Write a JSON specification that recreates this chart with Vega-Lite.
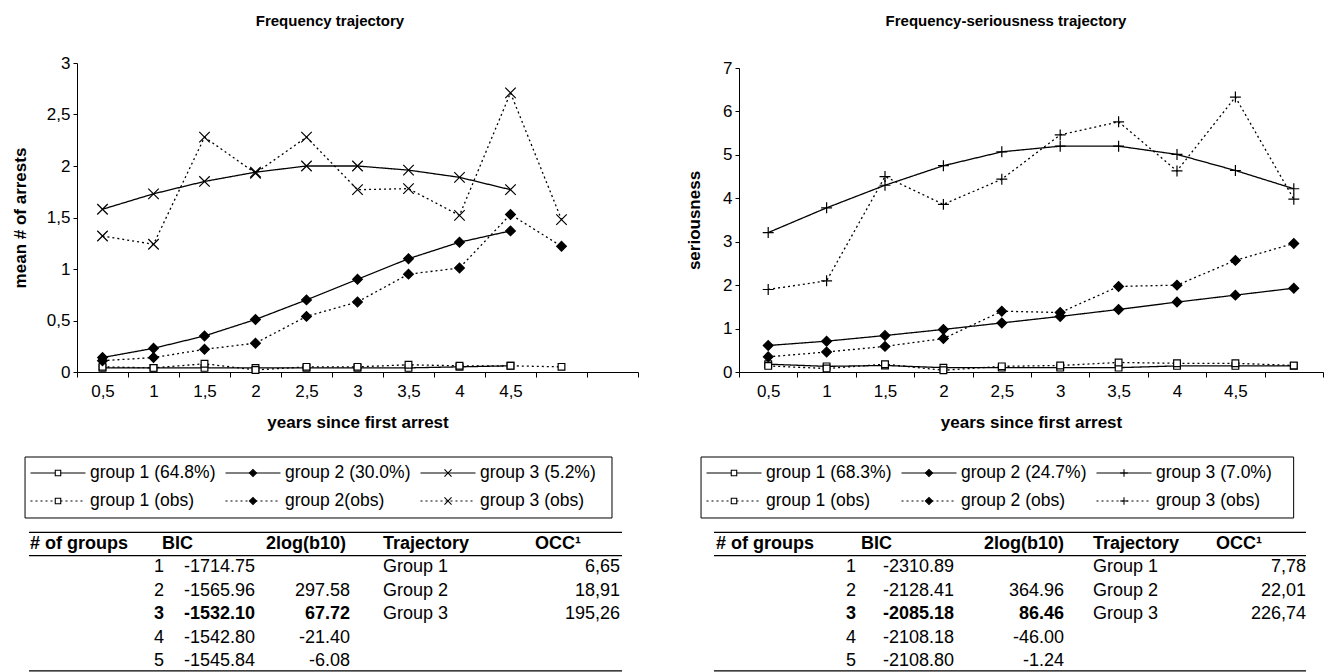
{
"$schema":"https://vega.github.io/schema/vega-lite/v6.json",
"width":1328,"height":672,"autosize":"none","padding":0,"background":"white",
"config":{"view":{"stroke":null},"font":"Liberation Sans","axis":{"labelFont":"Liberation Sans","titleFont":"Liberation Sans","labelColor":"black","titleColor":"black","domainColor":"black","tickColor":"black","grid":false,"domainWidth":1,"tickWidth":1},"text":{"font":"Liberation Sans","color":"black"}},
"datasets":{
"freq":[
{"x":0.5,"g":"g1","t":"model","v":0.04},{"x":1,"g":"g1","t":"model","v":0.04},{"x":1.5,"g":"g1","t":"model","v":0.04},{"x":2,"g":"g1","t":"model","v":0.04},{"x":2.5,"g":"g1","t":"model","v":0.04},{"x":3,"g":"g1","t":"model","v":0.04},{"x":3.5,"g":"g1","t":"model","v":0.04},{"x":4,"g":"g1","t":"model","v":0.05},{"x":4.5,"g":"g1","t":"model","v":0.06},
{"x":0.5,"g":"g2","t":"model","v":0.14},{"x":1,"g":"g2","t":"model","v":0.23},{"x":1.5,"g":"g2","t":"model","v":0.35},{"x":2,"g":"g2","t":"model","v":0.51},{"x":2.5,"g":"g2","t":"model","v":0.70},{"x":3,"g":"g2","t":"model","v":0.90},{"x":3.5,"g":"g2","t":"model","v":1.10},{"x":4,"g":"g2","t":"model","v":1.26},{"x":4.5,"g":"g2","t":"model","v":1.37},
{"x":0.5,"g":"g3","t":"model","v":1.58},{"x":1,"g":"g3","t":"model","v":1.73},{"x":1.5,"g":"g3","t":"model","v":1.85},{"x":2,"g":"g3","t":"model","v":1.94},{"x":2.5,"g":"g3","t":"model","v":2.00},{"x":3,"g":"g3","t":"model","v":2.00},{"x":3.5,"g":"g3","t":"model","v":1.96},{"x":4,"g":"g3","t":"model","v":1.89},{"x":4.5,"g":"g3","t":"model","v":1.77},
{"x":0.5,"g":"g1","t":"obs","v":0.05},{"x":1,"g":"g1","t":"obs","v":0.04},{"x":1.5,"g":"g1","t":"obs","v":0.08},{"x":2,"g":"g1","t":"obs","v":0.02},{"x":2.5,"g":"g1","t":"obs","v":0.05},{"x":3,"g":"g1","t":"obs","v":0.05},{"x":3.5,"g":"g1","t":"obs","v":0.07},{"x":4,"g":"g1","t":"obs","v":0.06},{"x":4.5,"g":"g1","t":"obs","v":0.06},{"x":5,"g":"g1","t":"obs","v":0.05},
{"x":0.5,"g":"g2","t":"obs","v":0.11},{"x":1,"g":"g2","t":"obs","v":0.14},{"x":1.5,"g":"g2","t":"obs","v":0.22},{"x":2,"g":"g2","t":"obs","v":0.28},{"x":2.5,"g":"g2","t":"obs","v":0.54},{"x":3,"g":"g2","t":"obs","v":0.68},{"x":3.5,"g":"g2","t":"obs","v":0.95},{"x":4,"g":"g2","t":"obs","v":1.01},{"x":4.5,"g":"g2","t":"obs","v":1.53},{"x":5,"g":"g2","t":"obs","v":1.22},
{"x":0.5,"g":"g3","t":"obs","v":1.32},{"x":1,"g":"g3","t":"obs","v":1.24},{"x":1.5,"g":"g3","t":"obs","v":2.28},{"x":2,"g":"g3","t":"obs","v":1.93},{"x":2.5,"g":"g3","t":"obs","v":2.28},{"x":3,"g":"g3","t":"obs","v":1.77},{"x":3.5,"g":"g3","t":"obs","v":1.78},{"x":4,"g":"g3","t":"obs","v":1.52},{"x":4.5,"g":"g3","t":"obs","v":2.71},{"x":5,"g":"g3","t":"obs","v":1.48}
],
"ser":[
{"x":0.5,"g":"g1","t":"model","v":0.18},{"x":1,"g":"g1","t":"model","v":0.13},{"x":1.5,"g":"g1","t":"model","v":0.15},{"x":2,"g":"g1","t":"model","v":0.10},{"x":2.5,"g":"g1","t":"model","v":0.10},{"x":3,"g":"g1","t":"model","v":0.10},{"x":3.5,"g":"g1","t":"model","v":0.10},{"x":4,"g":"g1","t":"model","v":0.14},{"x":4.5,"g":"g1","t":"model","v":0.14},{"x":5,"g":"g1","t":"model","v":0.14},
{"x":0.5,"g":"g2","t":"model","v":0.61},{"x":1,"g":"g2","t":"model","v":0.71},{"x":1.5,"g":"g2","t":"model","v":0.84},{"x":2,"g":"g2","t":"model","v":0.98},{"x":2.5,"g":"g2","t":"model","v":1.13},{"x":3,"g":"g2","t":"model","v":1.28},{"x":3.5,"g":"g2","t":"model","v":1.44},{"x":4,"g":"g2","t":"model","v":1.61},{"x":4.5,"g":"g2","t":"model","v":1.77},{"x":5,"g":"g2","t":"model","v":1.93},
{"x":0.5,"g":"g3","t":"model","v":3.21},{"x":1,"g":"g3","t":"model","v":3.78},{"x":1.5,"g":"g3","t":"model","v":4.30},{"x":2,"g":"g3","t":"model","v":4.75},{"x":2.5,"g":"g3","t":"model","v":5.07},{"x":3,"g":"g3","t":"model","v":5.20},{"x":3.5,"g":"g3","t":"model","v":5.20},{"x":4,"g":"g3","t":"model","v":5.01},{"x":4.5,"g":"g3","t":"model","v":4.64},{"x":5,"g":"g3","t":"model","v":4.22},
{"x":0.5,"g":"g1","t":"obs","v":0.14},{"x":1,"g":"g1","t":"obs","v":0.08},{"x":1.5,"g":"g1","t":"obs","v":0.18},{"x":2,"g":"g1","t":"obs","v":0.04},{"x":2.5,"g":"g1","t":"obs","v":0.13},{"x":3,"g":"g1","t":"obs","v":0.15},{"x":3.5,"g":"g1","t":"obs","v":0.22},{"x":4,"g":"g1","t":"obs","v":0.20},{"x":4.5,"g":"g1","t":"obs","v":0.20},{"x":5,"g":"g1","t":"obs","v":0.15},
{"x":0.5,"g":"g2","t":"obs","v":0.35},{"x":1,"g":"g2","t":"obs","v":0.46},{"x":1.5,"g":"g2","t":"obs","v":0.59},{"x":2,"g":"g2","t":"obs","v":0.77},{"x":2.5,"g":"g2","t":"obs","v":1.40},{"x":3,"g":"g2","t":"obs","v":1.37},{"x":3.5,"g":"g2","t":"obs","v":1.97},{"x":4,"g":"g2","t":"obs","v":2.00},{"x":4.5,"g":"g2","t":"obs","v":2.57},{"x":5,"g":"g2","t":"obs","v":2.96},
{"x":0.5,"g":"g3","t":"obs","v":1.90},{"x":1,"g":"g3","t":"obs","v":2.10},{"x":1.5,"g":"g3","t":"obs","v":4.50},{"x":2,"g":"g3","t":"obs","v":3.86},{"x":2.5,"g":"g3","t":"obs","v":4.44},{"x":3,"g":"g3","t":"obs","v":5.46},{"x":3.5,"g":"g3","t":"obs","v":5.76},{"x":4,"g":"g3","t":"obs","v":4.63},{"x":4.5,"g":"g3","t":"obs","v":6.33},{"x":5,"g":"g3","t":"obs","v":3.98}
],
"legL":[
{"k":1,"lr":1,"g":"g1","t":"model","label":"group 1 (64.8%)"},{"k":2,"lr":1,"g":"g2","t":"model","label":"group 2 (30.0%)"},{"k":3,"lr":1,"g":"g3","t":"model","label":"group 3 (5.2%)"},
{"k":1,"lr":2,"g":"g1","t":"obs","label":"group 1 (obs)"},{"k":2,"lr":2,"g":"g2","t":"obs","label":"group 2(obs)"},{"k":3,"lr":2,"g":"g3","t":"obs","label":"group 3 (obs)"}
],
"legR":[
{"k":1,"lr":1,"g":"g1","t":"model","label":"group 1 (68.3%)"},{"k":2,"lr":1,"g":"g2","t":"model","label":"group 2 (24.7%)"},{"k":3,"lr":1,"g":"g3","t":"model","label":"group 3 (7.0%)"},
{"k":1,"lr":2,"g":"g1","t":"obs","label":"group 1 (obs)"},{"k":2,"lr":2,"g":"g2","t":"obs","label":"group 2 (obs)"},{"k":3,"lr":2,"g":"g3","t":"obs","label":"group 3 (obs)"}
],
"tabL":[
{"r":0,"c":1,"s":"# of groups"},{"r":0,"c":3,"s":"BIC"},{"r":0,"c":5,"s":"2log(b10)"},{"r":0,"c":7,"s":"Trajectory"},{"r":0,"c":9,"s":"OCC¹"},
{"r":1,"c":2,"s":"1"},{"r":1,"c":4,"s":"-1714.75"},{"r":1,"c":8,"s":"Group 1"},{"r":1,"c":10,"s":"6,65"},
{"r":2,"c":2,"s":"2"},{"r":2,"c":4,"s":"-1565.96"},{"r":2,"c":6,"s":"297.58"},{"r":2,"c":8,"s":"Group 2"},{"r":2,"c":10,"s":"18,91"},
{"r":3,"c":2,"s":"3"},{"r":3,"c":4,"s":"-1532.10"},{"r":3,"c":6,"s":"67.72"},{"r":3,"c":8,"s":"Group 3"},{"r":3,"c":10,"s":"195,26"},
{"r":4,"c":2,"s":"4"},{"r":4,"c":4,"s":"-1542.80"},{"r":4,"c":6,"s":"-21.40"},
{"r":5,"c":2,"s":"5"},{"r":5,"c":4,"s":"-1545.84"},{"r":5,"c":6,"s":"-6.08"}
],
"tabR":[
{"r":0,"c":1,"s":"# of groups"},{"r":0,"c":3,"s":"BIC"},{"r":0,"c":5,"s":"2log(b10)"},{"r":0,"c":7,"s":"Trajectory"},{"r":0,"c":9,"s":"OCC¹"},
{"r":1,"c":2,"s":"1"},{"r":1,"c":4,"s":"-2310.89"},{"r":1,"c":8,"s":"Group 1"},{"r":1,"c":10,"s":"7,78"},
{"r":2,"c":2,"s":"2"},{"r":2,"c":4,"s":"-2128.41"},{"r":2,"c":6,"s":"364.96"},{"r":2,"c":8,"s":"Group 2"},{"r":2,"c":10,"s":"22,01"},
{"r":3,"c":2,"s":"3"},{"r":3,"c":4,"s":"-2085.18"},{"r":3,"c":6,"s":"86.46"},{"r":3,"c":8,"s":"Group 3"},{"r":3,"c":10,"s":"226,74"},
{"r":4,"c":2,"s":"4"},{"r":4,"c":4,"s":"-2108.18"},{"r":4,"c":6,"s":"-46.00"},
{"r":5,"c":2,"s":"5"},{"r":5,"c":4,"s":"-2108.80"},{"r":5,"c":6,"s":"-1.24"}
],
"lines":[{"r":-0.5,"c":0,"c2":11},{"r":0.5,"c":0,"c2":11},{"r":5.42,"c":0,"c2":11}]
},
"resolve":{"scale":{"x":"independent","y":"independent","shape":"independent","fill":"independent","size":"independent","strokeDash":"independent"},"axis":{"x":"independent","y":"independent"}},
"layer":[
{
"data":{"name":"freq"},
"resolve":{"axis":{"x":"independent","y":"independent"}},
"layer":[
{"mark":{"type":"line","color":"black","strokeWidth":1.3},
"encoding":{
"x":{"field":"x","type":"quantitative","scale":{"domain":[0.25,5.75],"range":[77,638],"zero":false,"nice":false},"axis":{"orient":"bottom","offset":-300,"values":[0.25,0.75,1.25,1.75,2.25,2.75,3.25,3.75,4.25,4.75,5.25,5.75],"labels":false,"ticks":true,"tickSize":5,"domain":true,"title":null}},
"y":{"field":"v","type":"quantitative","scale":{"domain":[0,3],"range":[372,63],"zero":false,"nice":false},"axis":{"orient":"left","offset":-77,"values":[0,0.5,1,1.5,2,2.5,3],"tickSize":4,"labelPadding":3,"labelFontSize":17,"labelExpr":"replace(format(datum.value,'~g'),'.',',')","title":"mean # of arrests","titleFontSize":17,"titleFontWeight":"bold","titlePadding":17}},
"detail":{"field":"g","type":"nominal"},
"strokeDash":{"field":"t","type":"nominal","scale":{"domain":["model","obs"],"range":[[1,0],[2,3]]},"legend":null}}},
{"mark":{"type":"point","filled":true,"stroke":"black","strokeWidth":1.2,"opacity":1},
"encoding":{
"x":{"field":"x","type":"quantitative","axis":{"orient":"bottom","offset":-300,"values":[0.5,1,1.5,2,2.5,3,3.5,4,4.5],"ticks":false,"tickSize":0,"domain":false,"labelPadding":11,"labelFontSize":17,"labelExpr":"replace(format(datum.value,'~g'),'.',',')","title":"years since first arrest","titleFontSize":17,"titleFontWeight":"bold","titlePadding":15}},
"y":{"field":"v","type":"quantitative","axis":null},
"shape":{"field":"g","type":"nominal","scale":{"domain":["g1","g2","g3"],"range":["square","diamond","M-1,-1L1,1M-1,1L1,-1"]},"legend":null},
"fill":{"field":"g","type":"nominal","scale":{"domain":["g1","g2","g3"],"range":["white","black","transparent"]},"legend":null},
"size":{"field":"g","type":"nominal","scale":{"type":"ordinal","domain":["g1","g2","g3"],"range":[45,95,110]},"legend":null}}},
{"data":{"values":[{"title":"Frequency trajectory"}]},
"mark":{"type":"text","fontSize":15,"fontWeight":"bold","align":"center","baseline":"middle"},
"encoding":{"x":{"datum":2.73,"type":"quantitative","axis":null},"y":{"datum":3.408,"type":"quantitative","axis":null},"text":{"field":"title"}}}
]},
{
"data":{"name":"ser"},
"resolve":{"axis":{"x":"independent","y":"independent"}},
"layer":[
{"mark":{"type":"line","color":"black","strokeWidth":1.3},
"encoding":{
"x":{"field":"x","type":"quantitative","scale":{"domain":[0.25,5.25],"range":[739,1323],"zero":false,"nice":false},"axis":{"orient":"bottom","offset":-300,"values":[0.25,0.75,1.25,1.75,2.25,2.75,3.25,3.75,4.25,4.75,5.25],"labels":false,"ticks":true,"tickSize":5,"domain":true,"title":null}},
"y":{"field":"v","type":"quantitative","scale":{"domain":[0,7],"range":[372,68],"zero":false,"nice":false},"axis":{"orient":"left","offset":-739,"values":[0,1,2,3,4,5,6,7],"tickSize":4,"labelPadding":3,"labelFontSize":17,"title":"seriousness","titleFontSize":17,"titleFontWeight":"bold","titlePadding":19}},
"detail":{"field":"g","type":"nominal"},
"strokeDash":{"field":"t","type":"nominal","scale":{"domain":["model","obs"],"range":[[1,0],[2,3]]},"legend":null}}},
{"mark":{"type":"point","filled":true,"stroke":"black","strokeWidth":1.2,"opacity":1},
"encoding":{
"x":{"field":"x","type":"quantitative","axis":{"orient":"bottom","offset":-300,"values":[0.5,1,1.5,2,2.5,3,3.5,4,4.5],"ticks":false,"tickSize":0,"domain":false,"labelPadding":11,"labelFontSize":17,"labelExpr":"replace(format(datum.value,'~g'),'.',',')","title":"years since first arrest","titleFontSize":17,"titleFontWeight":"bold","titlePadding":15}},
"y":{"field":"v","type":"quantitative","axis":null},
"shape":{"field":"g","type":"nominal","scale":{"domain":["g1","g2","g3"],"range":["square","diamond","M-1,0H1M0,-1V1"]},"legend":null},
"fill":{"field":"g","type":"nominal","scale":{"domain":["g1","g2","g3"],"range":["white","black","transparent"]},"legend":null},
"size":{"field":"g","type":"nominal","scale":{"type":"ordinal","domain":["g1","g2","g3"],"range":[45,95,120]},"legend":null}}},
{"data":{"values":[{"title":"Frequency-seriousness trajectory"}]},
"mark":{"type":"text","fontSize":15,"fontWeight":"bold","align":"center","baseline":"middle"},
"encoding":{"x":{"datum":2.536,"type":"quantitative","axis":null},"y":{"datum":8.08,"type":"quantitative","axis":null},"text":{"field":"title"}}}
]},
{
"data":{"name":"legL"},
"layer":[
{"data":{"values":[{"box":1}]},"mark":{"type":"rect","fill":"transparent","stroke":"black","strokeWidth":1},
"encoding":{"x":{"datum":0.831,"type":"quantitative","scale":{"domain":[1,3],"range":[58,448],"zero":false,"nice":false},"axis":null},"x2":{"datum":3.841},"y":{"datum":0.429,"type":"quantitative","scale":{"domain":[1,2],"range":[473,501],"zero":false,"nice":false},"axis":null},"y2":{"datum":2.607}}},
{"mark":{"type":"point","shape":"M-1,0H1","size":3025,"stroke":"black","strokeWidth":1.2,"fill":"transparent","opacity":1},
"encoding":{"x":{"field":"k","type":"quantitative","axis":null},"y":{"field":"lr","type":"quantitative","axis":null},"strokeDash":{"field":"t","type":"nominal","scale":{"domain":["model","obs"],"range":[[1,0],[2,3]]},"legend":null}}},
{"mark":{"type":"point","filled":true,"stroke":"black","strokeWidth":1.1,"opacity":1},
"encoding":{"x":{"field":"k","type":"quantitative","axis":null},"y":{"field":"lr","type":"quantitative","axis":null},
"shape":{"field":"g","type":"nominal","scale":{"domain":["g1","g2","g3"],"range":["square","diamond","M-1,-1L1,1M-1,1L1,-1"]},"legend":null},
"fill":{"field":"g","type":"nominal","scale":{"domain":["g1","g2","g3"],"range":["white","black","transparent"]},"legend":null},
"size":{"field":"g","type":"nominal","scale":{"type":"ordinal","domain":["g1","g2","g3"],"range":[30,50,50]},"legend":null}}},
{"mark":{"type":"text","align":"left","baseline":"middle","dx":32,"fontSize":17.5},
"encoding":{"x":{"field":"k","type":"quantitative","axis":null},"y":{"field":"lr","type":"quantitative","axis":null},"text":{"field":"label"}}}
]},
{
"data":{"name":"legR"},
"layer":[
{"data":{"values":[{"box":1}]},"mark":{"type":"rect","fill":"transparent","stroke":"black","strokeWidth":1},
"encoding":{"x":{"datum":0.831,"type":"quantitative","scale":{"domain":[1,3],"range":[734,1124],"zero":false,"nice":false},"axis":null},"x2":{"datum":3.87},"y":{"datum":0.429,"type":"quantitative","scale":{"domain":[1,2],"range":[473,501],"zero":false,"nice":false},"axis":null},"y2":{"datum":2.607}}},
{"mark":{"type":"point","shape":"M-1,0H1","size":3025,"stroke":"black","strokeWidth":1.2,"fill":"transparent","opacity":1},
"encoding":{"x":{"field":"k","type":"quantitative","axis":null},"y":{"field":"lr","type":"quantitative","axis":null},"strokeDash":{"field":"t","type":"nominal","scale":{"domain":["model","obs"],"range":[[1,0],[2,3]]},"legend":null}}},
{"mark":{"type":"point","filled":true,"stroke":"black","strokeWidth":1.1,"opacity":1},
"encoding":{"x":{"field":"k","type":"quantitative","axis":null},"y":{"field":"lr","type":"quantitative","axis":null},
"shape":{"field":"g","type":"nominal","scale":{"domain":["g1","g2","g3"],"range":["square","diamond","M-1,0H1M0,-1V1"]},"legend":null},
"fill":{"field":"g","type":"nominal","scale":{"domain":["g1","g2","g3"],"range":["white","black","transparent"]},"legend":null},
"size":{"field":"g","type":"nominal","scale":{"type":"ordinal","domain":["g1","g2","g3"],"range":[30,50,60]},"legend":null}}},
{"mark":{"type":"text","align":"left","baseline":"middle","dx":32,"fontSize":17.5},
"encoding":{"x":{"field":"k","type":"quantitative","axis":null},"y":{"field":"lr","type":"quantitative","axis":null},"text":{"field":"label"}}}
]},
{
"data":{"name":"tabL"},
"encoding":{"x":{"field":"c","type":"quantitative","scale":{"domain":[0,1,2,3,4,5,6,7,8,9,10,11],"range":[29,30,154,162,184,346,350,383,383,581,620,622],"zero":false,"nice":false},"axis":null},"y":{"field":"r","type":"quantitative","scale":{"domain":[0,5],"range":[544,661],"zero":false,"nice":false},"axis":null}},
"layer":[
{"transform":[{"filter":"!(datum.r == 0 || (datum.r == 3 && (datum.c == 2 || datum.c == 4 || datum.c == 6))) && (datum.c == 1 || datum.c == 2 || datum.c == 3 || datum.c == 4 || datum.c == 7 || datum.c == 8)"}],"mark":{"type":"text","align":"left","baseline":"middle","fontSize":18},"encoding":{"text":{"field":"s"}}},
{"transform":[{"filter":"(datum.r == 0 || (datum.r == 3 && (datum.c == 2 || datum.c == 4 || datum.c == 6))) && (datum.c == 1 || datum.c == 2 || datum.c == 3 || datum.c == 4 || datum.c == 7 || datum.c == 8)"}],"mark":{"type":"text","align":"left","baseline":"middle","fontSize":18,"fontWeight":"bold"},"encoding":{"text":{"field":"s"}}},
{"transform":[{"filter":"!(datum.r == 0 || (datum.r == 3 && (datum.c == 2 || datum.c == 4 || datum.c == 6))) && !(datum.c == 1 || datum.c == 2 || datum.c == 3 || datum.c == 4 || datum.c == 7 || datum.c == 8)"}],"mark":{"type":"text","align":"right","baseline":"middle","fontSize":18},"encoding":{"text":{"field":"s"}}},
{"transform":[{"filter":"(datum.r == 0 || (datum.r == 3 && (datum.c == 2 || datum.c == 4 || datum.c == 6))) && !(datum.c == 1 || datum.c == 2 || datum.c == 3 || datum.c == 4 || datum.c == 7 || datum.c == 8)"}],"mark":{"type":"text","align":"right","baseline":"middle","fontSize":18,"fontWeight":"bold"},"encoding":{"text":{"field":"s"}}},
{"data":{"name":"lines"},"mark":{"type":"rule","color":"black","strokeWidth":1.3},"encoding":{"x":{"field":"c","type":"quantitative"},"x2":{"field":"c2"},"y":{"field":"r","type":"quantitative"}}}
]},
{
"data":{"name":"tabR"},
"encoding":{"x":{"field":"c","type":"quantitative","scale":{"domain":[0,1,2,3,4,5,6,7,8,9,10,11],"range":[714,716,846,861,883,1064,1064,1093,1093,1262,1306,1306],"zero":false,"nice":false},"axis":null},"y":{"field":"r","type":"quantitative","scale":{"domain":[0,5],"range":[544,661],"zero":false,"nice":false},"axis":null}},
"layer":[
{"transform":[{"filter":"!(datum.r == 0 || (datum.r == 3 && (datum.c == 2 || datum.c == 4 || datum.c == 6))) && (datum.c == 1 || datum.c == 2 || datum.c == 3 || datum.c == 4 || datum.c == 7 || datum.c == 8)"}],"mark":{"type":"text","align":"left","baseline":"middle","fontSize":18},"encoding":{"text":{"field":"s"}}},
{"transform":[{"filter":"(datum.r == 0 || (datum.r == 3 && (datum.c == 2 || datum.c == 4 || datum.c == 6))) && (datum.c == 1 || datum.c == 2 || datum.c == 3 || datum.c == 4 || datum.c == 7 || datum.c == 8)"}],"mark":{"type":"text","align":"left","baseline":"middle","fontSize":18,"fontWeight":"bold"},"encoding":{"text":{"field":"s"}}},
{"transform":[{"filter":"!(datum.r == 0 || (datum.r == 3 && (datum.c == 2 || datum.c == 4 || datum.c == 6))) && !(datum.c == 1 || datum.c == 2 || datum.c == 3 || datum.c == 4 || datum.c == 7 || datum.c == 8)"}],"mark":{"type":"text","align":"right","baseline":"middle","fontSize":18},"encoding":{"text":{"field":"s"}}},
{"transform":[{"filter":"(datum.r == 0 || (datum.r == 3 && (datum.c == 2 || datum.c == 4 || datum.c == 6))) && !(datum.c == 1 || datum.c == 2 || datum.c == 3 || datum.c == 4 || datum.c == 7 || datum.c == 8)"}],"mark":{"type":"text","align":"right","baseline":"middle","fontSize":18,"fontWeight":"bold"},"encoding":{"text":{"field":"s"}}},
{"data":{"name":"lines"},"mark":{"type":"rule","color":"black","strokeWidth":1.3},"encoding":{"x":{"field":"c","type":"quantitative"},"x2":{"field":"c2"},"y":{"field":"r","type":"quantitative"}}}
]}
]
}
